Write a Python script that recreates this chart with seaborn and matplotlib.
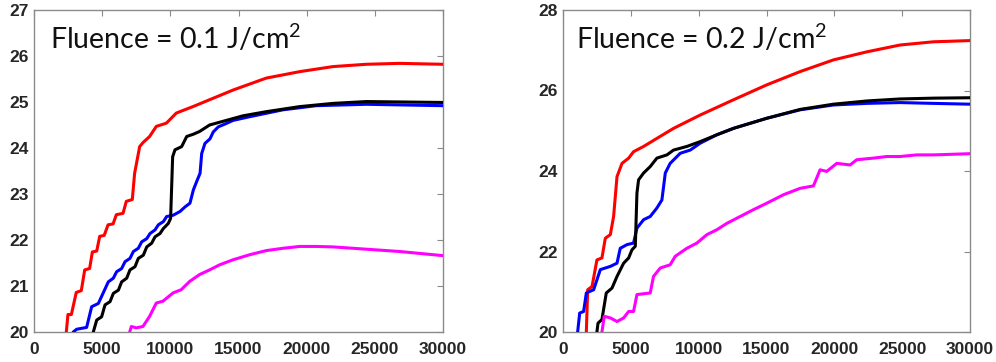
import numpy as np
import pandas as pd
import matplotlib
matplotlib.use("Agg")
import matplotlib.pyplot as plt
import seaborn as sns

# ---------------- data ----------------
# Panel 1: Fluence = 0.1 J/cm^2
p1_red_x = [2370, 2490, 2740, 3100, 3470, 3720, 4080, 4280, 4600, 4820, 5150, 5430, 5800, 6040, 6530, 6770, 7210,
            7380, 7750, 8000, 8480, 8970, 9710, 10440, 11660, 13130, 14600, 17040, 19490, 21930, 24380, 26820, 30000]
p1_red_y = [20.0, 20.38, 20.38, 20.86, 20.9, 21.35, 21.38, 21.74, 21.76, 22.08, 22.1, 22.33, 22.35, 22.55, 22.58, 22.84, 22.88,
            23.45, 24.03, 24.12, 24.25, 24.47, 24.54, 24.76, 24.9, 25.08, 25.26, 25.52, 25.66, 25.77, 25.82, 25.84, 25.82]

p1_blue_x = [2880, 3130, 3860, 4230, 4720, 5450, 5820, 6060, 6430, 6680, 7040, 7290, 7650, 7900, 8270, 8510, 8880,
             9120, 9490, 9730, 10220, 10710, 11080, 11440, 11690, 11930, 12180, 12300, 12540, 12910, 13150, 13520,
             14000, 14600, 15820, 18260, 20710, 24380, 30000]
p1_blue_y = [20.0, 20.06, 20.1, 20.55, 20.62, 21.09, 21.17, 21.31, 21.38, 21.53, 21.6, 21.75, 21.82, 21.96, 22.03, 22.14, 22.22,
             22.33, 22.4, 22.51, 22.54, 22.62, 22.72, 22.8, 23.09, 23.27, 23.45, 23.88, 24.1, 24.2, 24.35, 24.46,
             24.52, 24.6, 24.68, 24.83, 24.92, 24.95, 24.92]

p1_black_x = [4350, 4600, 4960, 5210, 5580, 5820, 6190, 6430, 6800, 7040, 7410, 7650, 8020, 8270, 8630, 8880, 9240,
              9490, 9850, 10020, 10170, 10340, 10830, 11200, 11690, 12150, 12880, 13860, 15330, 17040, 19490, 21930,
              24380, 30000]
p1_black_y = [20.0, 20.26, 20.33, 20.59, 20.66, 20.84, 20.91, 21.09, 21.17, 21.35, 21.42, 21.6, 21.67, 21.85, 21.93, 22.07, 22.14,
              22.25, 22.36, 22.47, 23.81, 23.96, 24.03, 24.25, 24.3, 24.36, 24.5, 24.58, 24.7, 24.79, 24.9, 24.97,
              25.01, 24.99]

p1_mag_x = [7020, 7140, 7500, 7990, 8480, 8970, 9460, 10200, 10800, 11420, 12150, 12880, 13610, 14600, 15820, 17040,
            18260, 19490, 20710, 21930, 24380, 26820, 30000]
p1_mag_y = [20.0, 20.12, 20.09, 20.12, 20.34, 20.63, 20.67, 20.85, 20.92, 21.1, 21.25, 21.35, 21.46, 21.57, 21.68, 21.77,
            21.82, 21.86, 21.86, 21.85, 21.8, 21.75, 21.66]

# Panel 2: Fluence = 0.2 J/cm^2
p2_red_x = [1720, 1820, 2140, 2500, 2870, 3120, 3490, 3730, 3980, 4350, 4840, 5200, 5940, 6920, 8150, 10110, 12570,
            15020, 17480, 19930, 22390, 24840, 27300, 30000]
p2_red_y = [20.0, 21.05, 21.13, 21.79, 21.84, 22.33, 22.42, 22.87, 23.86, 24.19, 24.32, 24.48, 24.61, 24.81, 25.06, 25.39, 25.77,
            26.14, 26.47, 26.76, 26.96, 27.13, 27.21, 27.24]

p2_blue_x = [1080, 1230, 1520, 1720, 2260, 2750, 3490, 3980, 4220, 4710, 5200, 5450, 5940, 6430, 6920, 7290, 7540, 7900,
             8640, 9380, 10110, 11340, 12570, 15020, 17480, 19930, 22390, 24840, 27300, 30000]
p2_blue_y = [20.0, 20.47, 20.51, 20.97, 21.05, 21.55, 21.63, 21.71, 22.08, 22.17, 22.21, 22.58, 22.79, 22.87, 23.08, 23.28, 23.95, 24.19,
             24.44, 24.52, 24.69, 24.9, 25.06, 25.31, 25.52, 25.64, 25.68, 25.7, 25.68, 25.66]

p2_black_x = [2500, 2580, 2870, 3190, 3610, 3980, 4470, 4840, 5080, 5330, 5450, 5570, 5940, 6430, 6920, 7660, 8150, 9130,
              10110, 11340, 12570, 15020, 17480, 19930, 22390, 24840, 27300, 30000]
p2_black_y = [20.0, 20.22, 20.31, 20.97, 21.09, 21.38, 21.71, 21.84, 22.04, 22.13, 23.45, 23.78, 23.95, 24.11, 24.32, 24.4, 24.52, 24.61,
              24.73, 24.9, 25.06, 25.31, 25.53, 25.66, 25.74, 25.79, 25.81, 25.82]

p2_mag_x = [2870, 3040, 3490, 3980, 4470, 4840, 5200, 5450, 6430, 6670, 7170, 7900, 8270, 9130, 9870, 10610, 11340, 12080,
            13060, 14040, 15020, 16250, 17480, 18460, 18950, 19440, 20180, 21160, 21650, 22880, 23860, 24840, 26070, 27300, 30000]
p2_mag_y = [20.0, 20.39, 20.35, 20.26, 20.35, 20.51, 20.51, 20.93, 20.97, 21.38, 21.59, 21.67, 21.88, 22.08, 22.21, 22.42, 22.54, 22.7,
            22.87, 23.04, 23.2, 23.41, 23.57, 23.63, 24.03, 23.99, 24.19, 24.15, 24.28, 24.32, 24.36, 24.36, 24.4, 24.4, 24.43]

titles = ["Fluence = 0.1 J/cm$^{2}$", "Fluence = 0.2 J/cm$^{2}$"]
series_names = ["red", "blue", "black", "magenta"]
xticks = [0, 5000, 10000, 15000, 20000, 25000, 30000]
yticks1 = [20, 21, 22, 23, 24, 25, 26, 27]
yticks2 = [20, 22, 24, 26, 28]


def make_df(xs, ys):
    frames = []
    for name, x, y in zip(series_names, xs, ys):
        frames.append(pd.DataFrame({"x": x, "y": y, "s": name}))
    return pd.concat(frames, ignore_index=True)


df1 = make_df([p1_red_x, p1_blue_x, p1_black_x, p1_mag_x], [p1_red_y, p1_blue_y, p1_black_y, p1_mag_y])
df2 = make_df([p2_red_x, p2_blue_x, p2_black_x, p2_mag_x], [p2_red_y, p2_blue_y, p2_black_y, p2_mag_y])

sns.set_theme(style="white")
plt.rcParams["font.family"] = ["Liberation Sans", "DejaVu Sans"]
plt.rcParams["mathtext.fontset"] = "custom"
plt.rcParams["mathtext.rm"] = "Lato"
plt.rcParams["mathtext.it"] = "Lato"
plt.rcParams["mathtext.bf"] = "Lato"

palette = {"red": "#ff0000", "blue": "#0000ff", "black": "#000000", "magenta": "#ff00ff"}

fig = plt.figure(figsize=(9.96, 3.62), dpi=100)
ax1 = fig.add_axes([34 / 996, 30 / 362, 409 / 996, 322 / 362])
ax2 = fig.add_axes([563 / 996, 30 / 362, 407 / 996, 322 / 362])

for ax, df, yt, title, tx in [(ax1, df1, yticks1, titles[0], 0.039), (ax2, df2, yticks2, titles[1], 0.032)]:
    sns.lineplot(data=df, x="x", y="y", hue="s", palette=palette, sort=False, estimator=None,
                 units="s", linewidth=2.2, legend=False, ax=ax, zorder=3)
    ax.set_xlim(0, 30000)
    ax.set_ylim(yt[0], yt[-1])
    ax.set_xticks(xticks)
    ax.set_yticks(yt)
    ax.set_xticklabels([str(v) for v in xticks])
    ax.set_yticklabels([str(v) for v in yt])
    ax.set_xlabel("")
    ax.set_ylabel("")
    for sp in ax.spines.values():
        sp.set_visible(True)
        sp.set_color("#8a8a8a")
        sp.set_linewidth(1.0)
    ax.tick_params(direction="in", top=True, right=True, length=4, width=0.8, color="#8a8a8a",
                   labelsize=12.5, labelcolor="#262626")
    ax.tick_params(axis="x", pad=7)
    ax.tick_params(axis="y", pad=4)
    for lab in ax.get_xticklabels() + ax.get_yticklabels():
        lab.set_fontweight("bold")
    ax.text(tx, 0.879, title, transform=ax.transAxes, fontsize=20.5, family=["Lato", "DejaVu Sans"],
            color="#111111", va="baseline", ha="left")

fig.savefig("out.png", dpi=100, facecolor="white")
